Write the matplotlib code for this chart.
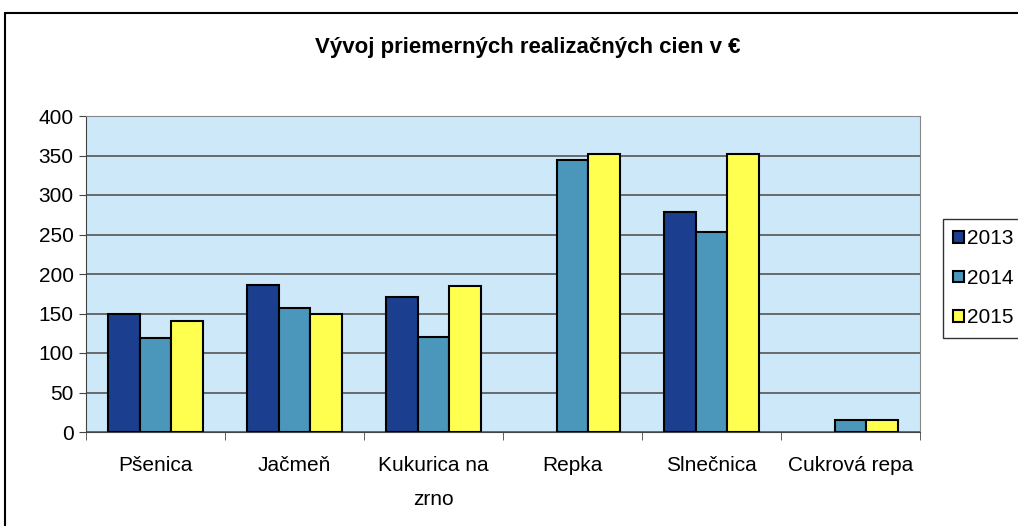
import matplotlib.pyplot as plt
import numpy as np
from matplotlib.patches import Rectangle

plt.rcParams['font.family'] = ['Liberation Sans', 'DejaVu Sans']

categories = ['Pšenica', 'Jačmeň', 'Kukurica na\nzrno', 'Repka', 'Slnečnica', 'Cukrová repa']
years = ['2013', '2014', '2015']
v2013 = [150, 186, 171, 0, 278, 0]
v2014 = [119, 157, 120, 344, 253, 15]
v2015 = [140, 149, 185, 352, 352, 15]
colors = ['#1b3f8e', '#4b97bb', '#ffff4f']

fig = plt.figure(figsize=(10.18, 5.26), dpi=100)
W, H = 1018, 526
ax = fig.add_axes([86 / W, 1 - 432 / H, 834 / W, 316 / H])
ax.set_facecolor('#cde9f9')

# figure frame (cut off at the right and bottom like the scan)
fig.patches.append(Rectangle((5 / W, -0.05), 1.1, (526 - 13) / H + 0.05,
                             transform=fig.transFigure, fill=False,
                             edgecolor='black', linewidth=1.5))

x = np.arange(len(categories))
w = 0.23
for i, (vals, c, lab) in enumerate(zip([v2013, v2014, v2015], colors, years)):
    vv = [v if v > 0 else np.nan for v in vals]
    ax.bar(x + (i - 1) * w, vv, width=w, color=c, edgecolor='black',
           linewidth=1.5, label=lab, zorder=3)

ax.set_xlim(-0.5, len(categories) - 0.5)
ax.set_ylim(0, 400)
ax.set_yticks(range(0, 401, 50))
ax.yaxis.grid(True, color='#555555', linewidth=1.2, zorder=1)
ax.set_axisbelow(True)

ax.set_xticks(x)
ax.set_xticklabels(categories, fontsize=15, linespacing=2.0)
ax.set_xticks(np.arange(-0.5, len(categories), 1), minor=True)
ax.tick_params(axis='x', which='major', length=0, pad=17)
ax.tick_params(axis='x', which='minor', length=6, color='#444444', direction='out')
ax.tick_params(axis='y', labelsize=15, length=5, color='#444444', pad=4)

for s in ['top', 'right']:
    ax.spines[s].set_color('#888888')
ax.spines['left'].set_color('#444444')
ax.spines['bottom'].set_color('#444444')

fig.text(528 / W, 1 - 47 / H, 'Vývoj priemerných realizačných cien v €',
         ha='center', va='center', fontsize=16, fontweight='bold')

leg = fig.legend(loc='upper left', bbox_to_anchor=(943 / W, 1 - 219 / H),
                 borderaxespad=0, fontsize=15, frameon=True, fancybox=False,
                 edgecolor='black', handlelength=0.5, handleheight=0.5,
                 handletextpad=0.15, labelspacing=0.98, borderpad=0.5)
leg.get_frame().set_linewidth(1.0)

fig.savefig('out.png', dpi=100)
